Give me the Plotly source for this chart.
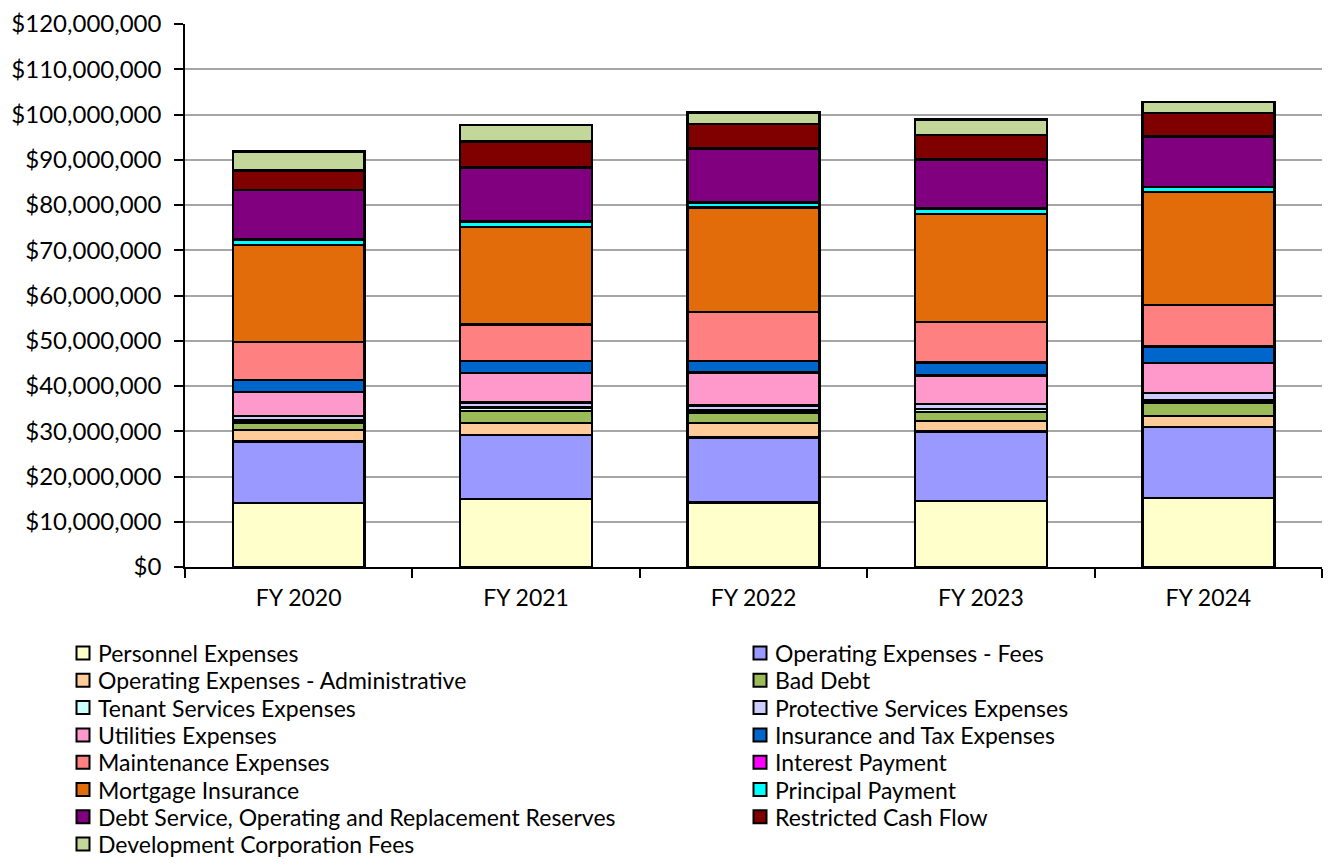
import plotly.graph_objects as go

years = ["FY 2020", "FY 2021", "FY 2022", "FY 2023", "FY 2024"]

# Annual amounts per expense line, in millions of dollars
personnel = [14.2, 15.0, 14.3, 14.6, 15.2]
op_fees = [13.5, 14.2, 14.3, 15.3, 15.7]
op_admin = [2.6, 2.6, 3.2, 2.4, 2.5]
bad_debt = [1.5, 2.7, 2.2, 2.0, 2.9]
tenant_services = [0.6, 0.7, 0.6, 0.6, 0.6]
protective_services = [1.0, 1.2, 1.1, 1.1, 1.5]
utilities = [5.3, 6.5, 7.3, 6.3, 6.7]
insurance_tax = [2.6, 2.6, 2.5, 2.9, 3.6]
maintenance = [8.4, 8.1, 10.9, 8.9, 9.2]
interest = [0.0, 0.0, 0.0, 0.0, 0.0]
mortgage_ins = [21.5, 21.5, 23.1, 23.9, 25.0]
principal = [1.2, 1.3, 1.1, 1.2, 1.1]
debt_reserves = [10.9, 11.9, 11.9, 10.9, 11.1]
restricted_cash = [4.3, 5.7, 5.4, 5.4, 5.2]
dev_corp_fees = [4.2, 3.7, 2.5, 3.4, 2.5]

series = [
    ("Personnel Expenses", personnel, "#FFFFCC"),
    ("Operating Expenses - Fees", op_fees, "#9999FF"),
    ("Operating Expenses - Administrative", op_admin, "#FFCC99"),
    ("Bad Debt", bad_debt, "#9BBB59"),
    ("Tenant Services Expenses", tenant_services, "#CCFFFF"),
    ("Protective Services Expenses", protective_services, "#CCCCFF"),
    ("Utilities Expenses", utilities, "#FF99CC"),
    ("Insurance and Tax Expenses", insurance_tax, "#0066CC"),
    ("Maintenance Expenses", maintenance, "#FF8080"),
    ("Interest Payment", interest, "#FF00FF"),
    ("Mortgage Insurance", mortgage_ins, "#E36C0A"),
    ("Principal Payment", principal, "#00FFFF"),
    ("Debt Service, Operating and Replacement Reserves", debt_reserves, "#800080"),
    ("Restricted Cash Flow", restricted_cash, "#800000"),
    ("Development Corporation Fees", dev_corp_fees, "#C4D79B"),
]

W, H = 1332, 867
M_L, M_R, M_T, M_B = 185, 10, 24, 300
PLOT_W = W - M_L - M_R
PLOT_H = H - M_T - M_B


def px_x(x):
    return (x - M_L) / PLOT_W


def px_y(y):
    return (H - M_B - y) / PLOT_H


font_family = "Lato, 'Open Sans', sans-serif"

fig = go.Figure()
for name, vals, color in series:
    fig.add_trace(go.Bar(
        x=years,
        y=[v * 1_000_000 for v in vals],
        name=name,
        showlegend=False,
        marker=dict(color=color, line=dict(color="black", width=2.5)),
    ))

# Two-column key below the chart, filled row by row
shapes = []
annotations = []
col_x = [83, 760]
row_y0, row_step, box = 653, 27.3, 13
for i, (name, _, color) in enumerate(series):
    cx = col_x[i % 2]
    cy = row_y0 + row_step * (i // 2)
    shapes.append(dict(
        type="rect", xref="paper", yref="paper",
        x0=px_x(cx - box / 2), x1=px_x(cx + box / 2),
        y0=px_y(cy + box / 2), y1=px_y(cy - box / 2),
        fillcolor=color, line=dict(color="black", width=2),
    ))
    annotations.append(dict(
        xref="paper", yref="paper", x=px_x(cx + 13), y=px_y(cy),
        xanchor="left", yanchor="middle", showarrow=False,
        text=name, font=dict(family=font_family, size=23, color="black"),
    ))

tick_vals = [i * 10_000_000 for i in range(13)]
tick_text = ["${:,}".format(v) for v in tick_vals]

fig.update_layout(
    barmode="stack",
    bargap=0.42,
    width=W,
    height=H,
    margin=dict(l=M_L, r=M_R, t=M_T, b=M_B, autoexpand=False),
    plot_bgcolor="white",
    paper_bgcolor="white",
    font=dict(family=font_family, size=23, color="black"),
    showlegend=False,
    shapes=shapes,
    annotations=annotations,
    xaxis=dict(
        showline=True,
        linecolor="black",
        linewidth=1.5,
        ticks="outside",
        tickson="boundaries",
        ticklen=9,
        tickwidth=1.5,
        tickcolor="black",
        tickfont=dict(size=23),
        showgrid=False,
        ticklabelstandoff=10,
    ),
    yaxis=dict(
        range=[0, 120_000_000],
        tickvals=tick_vals,
        ticktext=tick_text,
        showline=True,
        linecolor="black",
        linewidth=1.5,
        ticks="outside",
        ticklen=9,
        tickcolor="black",
        tickwidth=1.5,
        showgrid=True,
        gridcolor="#A6A6A6",
        gridwidth=1.5,
        zeroline=False,
        tickfont=dict(size=24),
        ticklabelstandoff=8,
    ),
)

fig.write_html("out.html")
